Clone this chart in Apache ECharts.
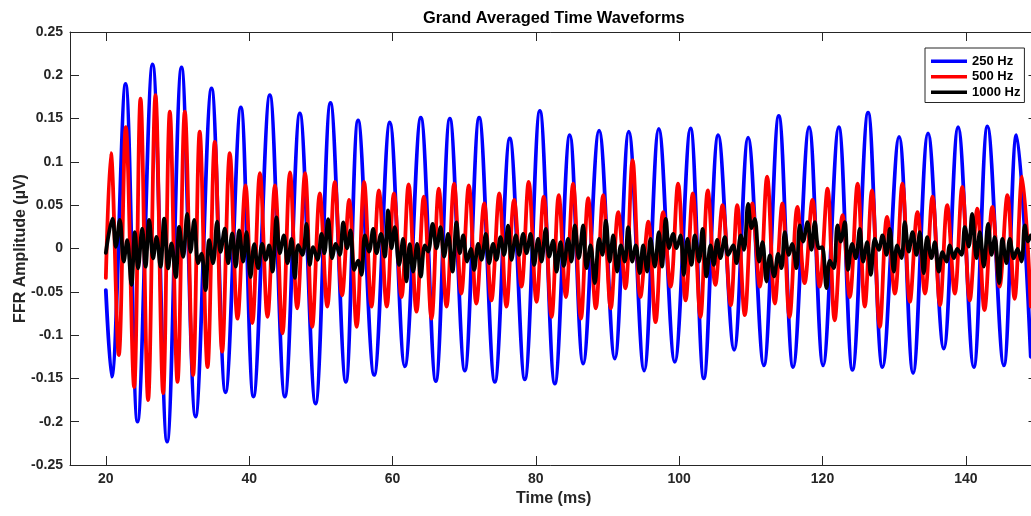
<!DOCTYPE html>
<html>
<head>
<meta charset="utf-8">
<script src="https://cdn.jsdelivr.net/npm/echarts@6/dist/echarts.min.js"></script>
<style>
html,body{margin:0;padding:0;background:#fff;}
#chart{width:1031px;height:516px;}
</style>
</head>
<body>
<div id="chart"></div>
<script>
// ---- data (time in ms, amplitude in µV) ----
const xTicks = [20, 40, 60, 80, 100, 120, 140];
const seriesNames = ['250 Hz', '500 Hz', '1000 Hz'];

// 250 Hz: peaks and troughs
const t250 = [20.0,20.8,22.75,24.42,26.52,28.55,30.56,32.52,34.75,36.7,38.84,40.6,42.88,44.98,47.07,49.26,51.35,53.49,55.2,57.44,59.63,61.72,63.95,66.04,68.0,70.09,72.09,74.28,76.37,78.46,80.56,82.65,84.74,86.6,88.83,91.02,92.97,95.11,97.16,99.39,101.58,103.44,105.45,107.67,109.62,111.81,113.9,115.9,118.13,120.08,122.27,124.18,126.36,128.37,130.69,132.64,134.73,136.92,138.92,141.11,143.02,145.3,147.07,149.06];
const v250 = [-0.048,-0.148,0.190,-0.200,0.2125,-0.223,0.209,-0.194,0.185,-0.166,0.163,-0.171,0.177,-0.171,0.156,-0.179,0.168,-0.154,0.148,-0.146,0.1455,-0.136,0.151,-0.153,0.150,-0.141,0.151,-0.154,0.127,-0.151,0.159,-0.156,0.131,-0.133,0.136,-0.127,0.135,-0.141,0.138,-0.131,0.1386,-0.150,0.131,-0.117,0.128,-0.135,0.153,-0.137,0.140,-0.135,0.140,-0.140,0.157,-0.137,0.129,-0.144,0.133,-0.1155,0.140,-0.137,0.141,-0.135,0.131,-0.125];

// 500 Hz: peaks and troughs
const t500 = [20.0,20.7,21.81,22.79,23.95,24.84,25.9,26.93,28.0,28.93,30.0,31.02,32.18,33.1,34.19,35.2,36.23,37.3,38.38,39.49,40.45,41.5,42.56,43.6,44.65,45.7,46.7,47.8,48.8,49.86,50.9,51.95,52.97,53.95,55.0,56.04,57.07,58.1,59.2,60.2,61.26,62.25,63.35,64.37,65.45,66.46,67.54,68.6,69.6,70.65,71.7,72.8,73.8,74.9,75.9,76.97,78.0,79.0,80.1,81.1,82.2,83.2,84.2,85.2,86.3,87.3,88.37,89.4,90.46,91.5,92.5,93.5,94.6,95.7,96.7,97.76,98.8,99.85,100.9,101.9,102.97,104.0,105.05,106.05,107.2,108.1,109.16,110.2,111.25,112.27,113.35,114.4,115.4,116.5,117.5,118.6,119.6,120.7,121.7,122.8,123.8,124.9,125.9,126.9,128.0,129.0,130.1,131.15,132.2,133.25,134.3,135.35,136.4,137.4,138.46,139.5,140.55,141.6,142.6,143.7,144.7,145.8,146.8,147.85,149.06];
const v500 = [-0.034,0.110,-0.123,0.140,-0.160,0.173,-0.175,0.177,-0.167,0.158,-0.154,0.158,-0.146,0.135,-0.137,0.123,-0.119,0.110,-0.081,0.073,-0.086,0.087,-0.079,0.073,-0.098,0.088,-0.069,0.087,-0.0905,0.0635,-0.067,0.077,-0.054,0.056,-0.0905,0.077,-0.067,0.067,-0.067,0.0635,-0.056,0.074,-0.073,0.060,-0.081,0.069,-0.067,0.075,-0.052,0.073,-0.0635,0.052,-0.060,0.0635,-0.067,0.056,-0.044,0.077,-0.0615,0.060,-0.079,0.0615,-0.056,0.075,-0.081,0.058,-0.069,0.0615,-0.069,0.042,-0.046,0.102,-0.056,0.031,-0.085,0.042,-0.044,0.075,-0.060,0.0635,-0.079,0.067,-0.042,0.050,-0.0655,0.050,-0.077,0.052,-0.044,0.083,-0.0635,0.052,-0.079,0.048,-0.040,0.056,-0.044,0.069,-0.083,0.0385,-0.056,0.075,-0.067,0.067,-0.0905,0.0365,-0.052,0.075,-0.0615,0.042,-0.052,0.060,-0.0655,0.050,-0.052,0.071,-0.060,0.046,-0.071,0.048,-0.044,0.0615,-0.058,0.083,-0.067];

// 1000 Hz: peaks and troughs
const t1000 = [20.0,20.93,21.4,21.95,22.5,22.98,23.58,24.05,24.5,25.07,25.54,26.05,26.6,27.07,27.63,28.14,28.7,29.16,29.77,30.23,30.79,31.35,31.82,32.33,32.88,33.35,33.91,34.42,34.97,35.53,36.0,36.6,37.07,37.63,38.14,38.6,39.16,39.63,40.19,40.7,
41.25,41.81,42.32,42.79,43.26,43.82,44.28,44.84,45.35,45.91,46.37,46.84,47.44,48.0,48.46,48.93,49.54,50.1,50.5,51.02,51.58,52.09,52.65,53.12,53.67,54.14,54.65,55.2,55.68,56.14,56.74,57.3,57.77,58.4,58.93,59.39,59.86,60.32,60.92,61.48,61.95,62.4,
62.88,63.44,63.95,64.51,64.97,65.6,66.14,66.7,67.2,67.76,68.37,68.93,69.39,69.86,70.41,70.93,71.39,71.95,72.42,73.02,73.48,74.04,74.51,75.07,75.57,76.13,76.6,77.21,77.67,78.23,78.7,79.26,79.76,80.32,80.79,81.39,81.86,82.41,82.89,83.44,83.9,
84.5,84.97,85.44,86.0,86.6,87.07,87.63,88.23,88.83,89.3,89.77,90.32,90.79,91.35,91.86,92.42,92.88,93.44,93.95,94.51,94.97,95.53,96.0,96.6,97.16,97.6,98.14,98.6,99.16,99.63,100.19,100.65,101.16,101.72,102.18,102.78,103.26,103.81,104.37,104.83,
105.3,105.75,106.37,106.83,107.53,108.0,108.6,109.06,109.62,110.1,110.55,111.16,111.63,112.19,112.65,113.25,113.81,114.28,114.74,115.3,115.76,116.37,116.83,117.3,117.9,118.46,118.93,119.49,119.95,120.56,121.02,121.58,122.09,122.55,123.11,123.57,124.13,124.65,125.2,125.67,126.23,126.74,
127.3,127.86,128.37,128.93,129.39,129.95,130.41,131.02,131.48,132.04,132.56,133.11,133.58,134.13,134.6,135.2,135.67,136.23,136.74,137.3,137.76,138.32,138.79,139.4,139.86,140.41,140.88,141.49,141.95,142.51,143.11,143.58,144.04,144.65,145.11,145.67,146.14,146.69,147.21,147.77,148.23,148.69,149.06];
const v1000 = [-0.005,0.0346,0.002,0.033,-0.015,0.0096,-0.042,0.019,-0.023,0.023,-0.021,0.033,-0.0115,0.0134,-0.021,0.0346,-0.023,0.0058,-0.033,0.025,-0.0097,0.040,-0.004,0.033,-0.017,-0.006,-0.048,0.0096,-0.017,0.031,-0.004,0.023,-0.017,0.0173,-0.021,0.021,-0.015,0.019,-0.033,0.005,
-0.0227,0.0053,-0.013,0.0035,-0.0266,0.036,-0.0054,0.015,-0.017,0.011,-0.034,0.004,-0.0074,0.0284,-0.019,0.0015,-0.013,0.017,-0.0054,0.034,-0.0112,0.0053,-0.0074,0.030,0.0003,0.021,-0.0247,-0.014,-0.0305,0.015,-0.0035,0.0227,-0.0054,0.017,-0.0093,0.044,0.0003,0.0246,-0.019,0.011,-0.038,0.005,
-0.0266,0.0053,-0.0324,0.0035,-0.0035,0.0284,0.0003,0.0246,-0.0093,0.017,-0.0266,0.030,-0.0054,0.015,-0.015,-0.0005,-0.0247,0.0053,-0.013,0.017,-0.017,0.0053,-0.013,0.013,-0.0074,0.0265,-0.013,0.015,-0.0074,0.017,-0.0054,0.017,-0.019,0.011,-0.015,0.0227,-0.0093,0.0092,-0.0266,0.0073,-0.02,
0.0112,-0.015,0.0266,-0.0112,0.0266,-0.0227,0.0035,-0.040,0.0112,-0.0073,0.0323,-0.015,0.015,-0.0266,0.0035,-0.015,0.0246,-0.015,0.0035,-0.0285,0.0035,-0.0266,0.0112,-0.0208,0.0189,-0.0208,0.0343,0.0004,0.0169,0.0004,0.015,-0.0304,0.0112,-0.0189,0.015,-0.015,0.0227,-0.0323,0.0035,-0.0189,
0.010,-0.0112,0.0131,-0.0073,0.0035,-0.0169,0.015,-0.0015,0.0516,0.0235,0.0343,-0.015,0.0073,-0.0381,-0.0081,-0.0323,-0.0062,-0.0227,0.0189,-0.0073,0.0054,-0.0227,0.0266,0.0081,0.0304,-0.0015,0.0304,0.0004,0.0015,-0.0458,-0.0139,-0.0227,0.0266,0.0081,0.0304,-0.0246,0.0054,-0.0112,0.0227,-0.015,0.0073,-0.0304,
0.0112,-0.0015,0.015,-0.0073,0.0227,-0.0266,0.0035,-0.0112,0.0304,-0.0035,0.0189,-0.0073,0.0189,-0.0285,0.0131,-0.0112,0.0073,-0.0266,-0.0042,-0.015,0.0035,-0.0112,-0.0004,-0.0073,0.0246,0.0023,0.040,-0.0112,0.0189,-0.0208,0.0285,-0.0073,0.0131,-0.040,0.0112,-0.0169,0.0112,-0.0112,-0.0004,-0.015,0.0266,0.0081,0.015];

function pairs(ts, vs) { return ts.map((t, i) => [t, vs[i]]); }

const axisColor = '#262626';
const FONT = '"Liberation Sans", Arial, Helvetica, sans-serif';
function fmtY(v) { const r = Math.round(v * 100) / 100; return r === 0 ? '0' : String(r); }

const chart = echarts.init(document.getElementById('chart'), null, { renderer: 'canvas' });
const tickStyle = { show: true, inside: true, length: 9, lineStyle: { color: axisColor, width: 1 } };

const lineSeries = (name, data, color) => ({
  name, type: 'line', data, xAxisIndex: 0, yAxisIndex: 0,
  showSymbol: false, symbol: 'none', smooth: 0.36,
  lineStyle: { color, width: 3.8, cap: 'round', join: 'round' },
  itemStyle: { color },
  emphasis: { disabled: true }, animation: false
});

chart.setOption({
  animation: false,
  backgroundColor: '#ffffff',
  textStyle: { fontFamily: FONT },
  grid: { left: 70, right: -6.5, top: 32, bottom: 51, containLabel: false, outerBoundsMode: 'none' },
  legend: {
    data: seriesNames, orient: 'vertical', left: 925, top: 48,
    padding: [6, 4, 3, 6], itemGap: 1, itemWidth: 36, itemHeight: 3.5, icon: 'rect',
    backgroundColor: '#ffffff', borderColor: axisColor, borderWidth: 1, borderRadius: 0,
    textStyle: { fontFamily: FONT, fontWeight: 'bold', fontSize: 13, color: '#000', lineHeight: 14.5 }
  },
  xAxis: [
    {
      type: 'value', position: 'bottom', min: 15, max: 150,
      name: 'Time (ms)', nameLocation: 'middle', nameGap: 26, nameMoveOverlap: false,
      nameTextStyle: { fontFamily: FONT, fontWeight: 'bold', fontSize: 16, color: axisColor },
      axisLine: { show: true, onZero: false, lineStyle: { color: axisColor, width: 1 } },
      axisTick: Object.assign({ customValues: xTicks }, tickStyle),
      axisLabel: { customValues: xTicks, margin: 7, fontFamily: FONT, fontWeight: 'bold', fontSize: 14, color: axisColor },
      splitLine: { show: false }
    },
    {
      type: 'value', position: 'top', min: 15, max: 150,
      name: 'Grand Averaged Time Waveforms', nameLocation: 'middle', nameGap: 6, nameMoveOverlap: false,
      nameTextStyle: { fontFamily: FONT, fontWeight: 'bold', fontSize: 16.4, color: '#000' },
      axisLine: { show: true, onZero: false, lineStyle: { color: axisColor, width: 1 } },
      axisTick: Object.assign({ customValues: xTicks }, tickStyle),
      axisLabel: { show: false },
      splitLine: { show: false }
    }
  ],
  yAxis: [
    {
      type: 'value', position: 'left', min: -0.25, max: 0.25, interval: 0.05,
      name: 'FFR Amplitude (µV)', nameLocation: 'middle', nameGap: 41, nameRotate: 90, nameMoveOverlap: false,
      nameTextStyle: { fontFamily: FONT, fontWeight: 'bold', fontSize: 16, color: axisColor },
      axisLine: { show: true, onZero: false, lineStyle: { color: axisColor, width: 1 } },
      axisTick: tickStyle,
      axisLabel: { formatter: fmtY, margin: 7, fontFamily: FONT, fontWeight: 'bold', fontSize: 14, color: axisColor },
      splitLine: { show: false }
    },
    {
      type: 'value', position: 'right', min: -0.25, max: 0.25, interval: 0.05,
      axisLine: { show: true, onZero: false, lineStyle: { color: axisColor, width: 1 } },
      axisTick: tickStyle,
      axisLabel: { show: false },
      splitLine: { show: false }
    }
  ],
  series: [
    lineSeries(seriesNames[0], pairs(t250, v250), '#0000FF'),
    lineSeries(seriesNames[1], pairs(t500, v500), '#FF0000'),
    lineSeries(seriesNames[2], pairs(t1000, v1000), '#000000')
  ]
});
</script>
</body>
</html>
